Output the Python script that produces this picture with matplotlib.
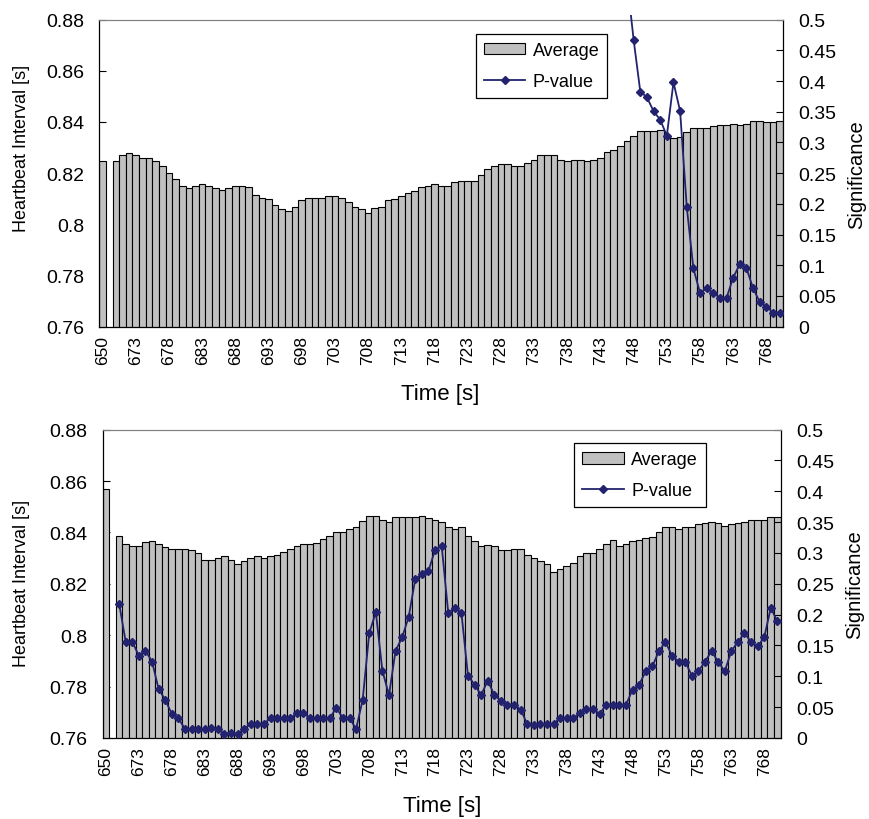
import numpy as np
import matplotlib
matplotlib.use("Agg")
import matplotlib.pyplot as plt
from matplotlib.patches import Patch, Rectangle
from matplotlib.lines import Line2D

plt.rcParams['font.family'] = ['Liberation Sans', 'DejaVu Sans']

nan = np.nan

# categorias do eixo x (a primeira e 650, depois 669..770)
tempos = [650] + list(range(669, 771))

# grafico de cima: media do intervalo entre batimentos
media_1 = [
    0.8246, nan, 0.8246, 0.8271, 0.8278, 0.8271, 0.8258, 0.8258, 0.8246, 0.8229,
    0.8201, 0.8176, 0.8151, 0.8141, 0.8151, 0.8156, 0.8151, 0.8141, 0.8134, 0.8141,
    0.8151, 0.8151, 0.8145, 0.8116, 0.8104, 0.8098, 0.8074, 0.8059, 0.8051, 0.8069,
    0.8094, 0.8104, 0.8104, 0.8104, 0.8110, 0.8110, 0.8104, 0.8086, 0.8069, 0.8059,
    0.8046, 0.8063, 0.8069, 0.8094, 0.8098, 0.8110, 0.8123, 0.8129, 0.8145, 0.8151,
    0.8156, 0.8151, 0.8151, 0.8164, 0.8168, 0.8168, 0.8168, 0.8193, 0.8218, 0.8229,
    0.8234, 0.8234, 0.8229, 0.8229, 0.8241, 0.8253, 0.8270, 0.8270, 0.8270, 0.8253,
    0.8246, 0.8253, 0.8253, 0.8247, 0.8253, 0.8259, 0.8282, 0.8290, 0.8305, 0.8325,
    0.8347, 0.8364, 0.8364, 0.8364, 0.8370, 0.8350, 0.8337, 0.8341, 0.8360, 0.8376,
    0.8376, 0.8376, 0.8384, 0.8387, 0.8387, 0.8394, 0.8387, 0.8394, 0.8405, 0.8405,
    0.8399, 0.8399, 0.8405,
]
pvalor_1 = [nan] * 79 + [
    0.565, 0.467, 0.383, 0.3735, 0.351, 0.337, 0.311, 0.398, 0.351, 0.195,
    0.095, 0.055, 0.0624, 0.055, 0.047, 0.047, 0.080, 0.102, 0.095, 0.0624,
    0.040, 0.0326, 0.023, 0.023,
]

# grafico de baixo
media_2 = [
    0.8568, nan, 0.8385, 0.8354, 0.8349, 0.8349, 0.8362, 0.8365, 0.8354, 0.8342,
    0.8337, 0.8337, 0.8337, 0.8330, 0.8319, 0.8294, 0.8294, 0.8299, 0.8307, 0.8294,
    0.8276, 0.8288, 0.8299, 0.8307, 0.8299, 0.8307, 0.8314, 0.8325, 0.8337, 0.8349,
    0.8354, 0.8354, 0.8360, 0.8373, 0.8385, 0.8400, 0.8400, 0.8412, 0.8420, 0.8446,
    0.8465, 0.8465, 0.8447, 0.8442, 0.8460, 0.8460, 0.8460, 0.8460, 0.8465, 0.8455,
    0.8447, 0.8442, 0.8420, 0.8412, 0.8420, 0.8387, 0.8365, 0.8349, 0.8351, 0.8349,
    0.8330, 0.8330, 0.8337, 0.8337, 0.8314, 0.8299, 0.8288, 0.8276, 0.8247, 0.8259,
    0.8271, 0.8282, 0.8307, 0.8319, 0.8319, 0.8337, 0.8354, 0.8372, 0.8349, 0.8354,
    0.8365, 0.8372, 0.8377, 0.8384, 0.8400, 0.8420, 0.8420, 0.8413, 0.8420, 0.8420,
    0.8432, 0.8437, 0.8442, 0.8437, 0.8425, 0.8432, 0.8437, 0.8442, 0.8447, 0.8447,
    0.8447, 0.8461, 0.8461,
]
pvalor_2 = [
    nan, nan, 0.218, 0.156, 0.156, 0.1335, 0.1416, 0.124, 0.0795, 0.062,
    0.039, 0.032, 0.0146, 0.0146, 0.0146, 0.0146, 0.0157, 0.0146, 0.0065, 0.008,
    0.0065, 0.0146, 0.0227, 0.0227, 0.0227, 0.0324, 0.0324, 0.0324, 0.0324, 0.040,
    0.040, 0.0324, 0.0324, 0.0324, 0.0324, 0.0486, 0.0324, 0.0324, 0.0146, 0.062,
    0.170, 0.204, 0.109, 0.0697, 0.1416, 0.163, 0.197, 0.258, 0.266, 0.271,
    0.305, 0.312, 0.203, 0.211, 0.203, 0.101, 0.0865, 0.0697, 0.093, 0.0697,
    0.0605, 0.054, 0.054, 0.046, 0.0227, 0.0216, 0.0227, 0.0227, 0.0227, 0.0324,
    0.0324, 0.0324, 0.0405, 0.047, 0.047, 0.039, 0.054, 0.054, 0.054, 0.054,
    0.078, 0.0865, 0.108, 0.116, 0.1405, 0.156, 0.1335, 0.124, 0.124, 0.101,
    0.108, 0.124, 0.1405, 0.124, 0.108, 0.1405, 0.156, 0.170, 0.156, 0.1486,
    0.163, 0.211, 0.189,
]

cinza = '#C0C0C0'
azul = '#22226E'


def desenha(ax, media, pvalor, leg_xy, ylab_pos, sig_pos, time_pos, topo_clip):
    x = np.arange(len(tempos))
    media = np.array(media, dtype=float)
    ok = ~np.isnan(media)
    ax.bar(x[ok], media[ok], width=1.0, color=cinza, edgecolor='black',
           linewidth=0.8, zorder=2)
    ax.set_xlim(-0.5, len(tempos) - 0.5)
    ax.set_ylim(0.76, 0.88)
    yt = np.round(np.arange(0.76, 0.8801, 0.02), 2)
    ax.set_yticks(yt)
    ax.set_yticklabels(['{:g}'.format(v) for v in yt], fontsize=14)
    ax.set_xticks(x[::5])
    ax.set_xticklabels([str(tempos[i]) for i in x[::5]], rotation=90, fontsize=12.5)
    ax.set_xticks(np.arange(4.5, len(tempos), 5), minor=True)
    ax.tick_params(axis='x', which='major', length=0, pad=6)
    ax.tick_params(axis='x', which='minor', direction='in', length=5, width=0.8)
    ax.tick_params(axis='y', direction='in', length=5, width=0.8, pad=11)
    ax.spines['top'].set_color('#808080')
    ax.spines['right'].set_visible(False)
    for s in ['left', 'bottom']:
        ax.spines[s].set_linewidth(0.9)

    ax.set_ylabel('Heartbeat Interval [s]', fontsize=13)
    ax.yaxis.label.set_va('center')
    ax.yaxis.set_label_coords(*ylab_pos)
    ax.set_xlabel('Time [s]', fontsize=16)
    ax.xaxis.label.set_va('center')
    ax.xaxis.set_label_coords(*time_pos)

    ax2 = ax.twinx()
    ax2.set_ylim(0, 0.5)
    pt = np.round(np.arange(0, 0.5001, 0.05), 2)
    ax2.set_yticks(pt)
    ax2.set_yticklabels(['{:g}'.format(v) for v in pt], fontsize=14)
    ax2.tick_params(axis='y', direction='in', length=5, width=0.8, pad=11)
    ax2.spines['top'].set_color('#808080')
    ax2.spines['left'].set_visible(False)
    ax2.spines['bottom'].set_visible(False)
    ax2.spines['right'].set_linewidth(0.9)
    ax2.set_ylabel('Significance', fontsize=14.5)
    ax2.yaxis.label.set_va('center')
    ax2.yaxis.set_label_coords(*sig_pos)

    linha, = ax2.plot(x, pvalor, color=azul, lw=1.3, marker='D', ms=4.4,
                      markeredgecolor=azul, zorder=3)
    # no Excel a linha passa um pouco acima da area do grafico
    linha.set_clip_path(Rectangle((0, -0.05), 1, topo_clip + 0.05,
                                  transform=ax2.transAxes))

    alcas = [Patch(facecolor=cinza, edgecolor='black', linewidth=0.8),
             Line2D([], [], color=azul, lw=1.3, marker='D', ms=4.4)]
    leg = ax2.legend(alcas, ['Average', 'P-value'], loc='upper left',
                     bbox_to_anchor=leg_xy, borderaxespad=0, fontsize=13,
                     fancybox=False, framealpha=1, edgecolor='black',
                     handlelength=2.3, handleheight=0.6, handletextpad=0.4,
                     borderpad=0.45, labelspacing=0.75)
    leg.get_frame().set_linewidth(0.9)
    leg.set_zorder(5)
    return ax2


fig = plt.figure(figsize=(8.7, 8.2), dpi=100)
ax_cima = fig.add_axes([0.1141, 0.6004, 0.7859, 0.3744])
ax_baixo = fig.add_axes([0.1180, 0.0988, 0.7793, 0.3760])

desenha(ax_cima, media_1, pvalor_1, (0.5505, 0.9534), (-0.1135, 0.585),
        (1.1078, 0.497), (0.498, -0.219), 1.0153)
desenha(ax_baixo, media_2, pvalor_2, (0.6956, 0.9559), (-0.119, 0.503),
        (1.1096, 0.4995), (0.501, -0.2196), 1.0)

fig.savefig('out.png', dpi=100)
